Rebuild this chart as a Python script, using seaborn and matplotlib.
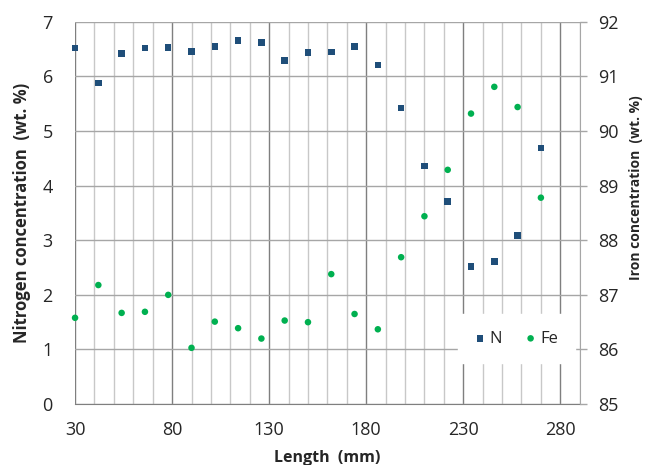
import numpy as np
import pandas as pd
import matplotlib
matplotlib.use('Agg')
import matplotlib.pyplot as plt
import seaborn as sns
from matplotlib.ticker import MultipleLocator

# positions along the sample (mm)
length = [30, 42, 54, 66, 78, 90, 102, 114, 126, 138, 150,
          162, 174, 186, 198, 210, 222, 234, 246, 258, 270]
nitrogen = [6.52, 5.88, 6.42, 6.52, 6.53, 6.46, 6.55, 6.66, 6.62, 6.29, 6.44,
            6.45, 6.55, 6.21, 5.42, 4.36, 3.71, 2.52, 2.61, 3.09, 4.69]
iron = [86.58, 87.18, 86.67, 86.69, 87.00, 86.03, 86.51, 86.39, 86.20, 86.53, 86.50,
        87.38, 86.65, 86.37, 87.69, 88.44, 89.29, 90.32, 90.81, 90.44, 88.78]

df = pd.DataFrame({'Length': length, 'N': nitrogen, 'Fe': iron})

sns.set_style('white')
plt.rcParams['font.family'] = ['Open Sans', 'DejaVu Sans']

fig = plt.figure(figsize=(6.47, 4.65), dpi=100)
ax = fig.add_axes([0.116, 0.131, 0.780, 0.822])
ax2 = ax.twinx()

sns.scatterplot(data=df, x='Length', y='N', ax=ax, marker='s', s=22,
                color='#1F4E79', edgecolor='none', label='N', zorder=3, clip_on=False)
sns.scatterplot(data=df, x='Length', y='Fe', ax=ax2, marker='o', s=22,
                color='#00B050', edgecolor='none', label='Fe', zorder=3, clip_on=False)

ax.set_xlim(30, 290)
ax.set_ylim(0, 7)
ax2.set_ylim(85, 92)
ax.set_xticks([30, 80, 130, 180, 230, 280])
ax.xaxis.set_minor_locator(MultipleLocator(10))
ax.yaxis.set_major_locator(MultipleLocator(1))
ax2.yaxis.set_major_locator(MultipleLocator(1))

ax.grid(True, which='major', axis='x', color='#7f7f7f', linewidth=1.0)
ax.grid(True, which='minor', axis='x', color='#c8c8c8', linewidth=1.0)
ax.grid(True, which='major', axis='y', color='#a6a6a6', linewidth=1.0)
ax.set_axisbelow(True)

for a in (ax, ax2):
    for s in a.spines.values():
        s.set_visible(False)
ax2.spines['right'].set_visible(True)
ax2.spines['right'].set_color('#a6a6a6')
ax.spines['bottom'].set_visible(True)
ax.spines['bottom'].set_color('#7f7f7f')

ax.tick_params(axis='y', which='both', length=0, labelsize=13, colors='#262626', pad=16)
ax.tick_params(axis='x', which='both', length=0, labelsize=13, colors='#262626', pad=12)
ax2.tick_params(axis='y', length=5, width=1, color='#a6a6a6', labelsize=13,
                labelcolor='#262626', pad=8)

ax.set_xlabel('Length  (mm)', fontsize=11.5, fontweight='bold', labelpad=8)
ax.set_ylabel('Nitrogen concentration  (wt. %)', fontsize=12, fontweight='bold', labelpad=8)
ax2.set_ylabel('Iron concentration  (wt. %)', fontsize=10, fontweight='bold',
               family=['Liberation Sans Narrow', 'Open Sans', 'DejaVu Sans'])
ax2.yaxis.set_label_coords(1.097, 0.565)

h1, l1 = ax.get_legend_handles_labels()
h2, l2 = ax2.get_legend_handles_labels()
ax.get_legend().remove()
ax2.get_legend().remove()
leg = ax2.legend(h1 + h2, l1 + l2, ncol=2, loc='center', bbox_to_anchor=(0.875, 0.171),
                 frameon=True, fancybox=False, edgecolor='white', facecolor='white',
                 framealpha=1, fontsize=12, handlelength=0.6, handletextpad=0.3,
                 columnspacing=1.4, borderpad=1.0, borderaxespad=0)

fig.savefig('out.png', dpi=100)
